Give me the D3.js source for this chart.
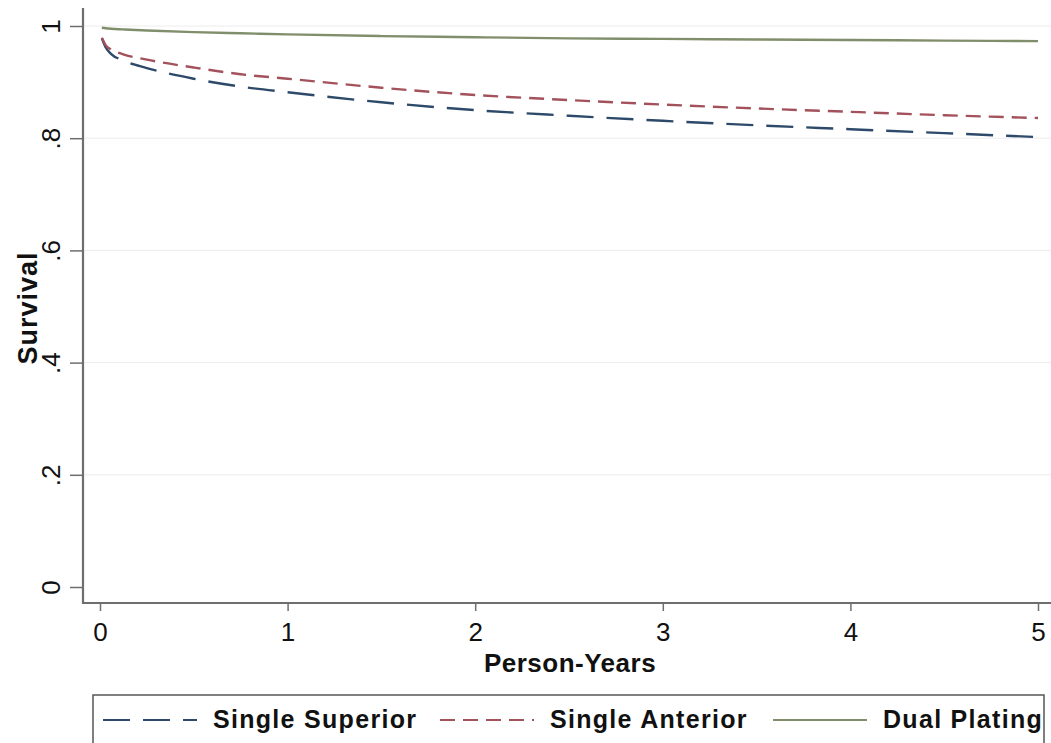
<!DOCTYPE html>
<html><head><meta charset="utf-8">
<script src="https://cdn.jsdelivr.net/npm/d3@7"></script>
<style>
html,body{margin:0;padding:0;background:#fff;}
svg{display:block;font-family:"Liberation Sans",Arial,Helvetica,sans-serif;}
</style></head>
<body>
<svg id="chart" width="1051" height="743"></svg>
<script>
const timePoints = [0.01,0.03,0.06,0.12,0.25,0.5,0.75,1,1.5,2,2.5,3,3.5,4,4.5,5];
const singleSuperior = [0.978,0.962,0.950,0.939,0.925,0.906,0.892,0.882,0.864,0.850,0.840,0.831,0.823,0.816,0.809,0.802];
const singleAnterior = [0.979,0.966,0.958,0.950,0.940,0.926,0.914,0.906,0.890,0.877,0.868,0.860,0.853,0.847,0.841,0.836];
const dualPlating   = [0.997,0.996,0.995,0.994,0.992,0.989,0.987,0.985,0.982,0.980,0.978,0.977,0.976,0.975,0.974,0.973];
const seriesNames = ["Single Superior","Single Anterior","Dual Plating"];
const xTicks = [0,1,2,3,4,5];
const yTicks = [0,0.2,0.4,0.6,0.8,1];
const yTickLabels = ["0",".2",".4",".6",".8","1"];

const svg = d3.select("#chart");
const x = d3.scaleLinear().domain([0,5]).range([100,1038]);
const y = d3.scaleLinear().domain([0,1]).range([587,26]);
const axisColor = "#6e6e6e";

// gridlines
svg.append("g").selectAll("line").data(yTicks.slice(1)).join("line")
  .attr("x1",84).attr("x2",1051)
  .attr("y1",d=>y(d)).attr("y2",d=>y(d))
  .attr("stroke","#ececec").attr("stroke-width",1);

// y axis
const yAxis = svg.append("g").attr("transform","translate(83,0)")
  .call(d3.axisLeft(y).tickValues(yTicks).tickFormat((d,i)=>yTickLabels[i]).tickSize(13).tickPadding(0));
yAxis.select(".domain").remove();
yAxis.selectAll(".tick line").attr("stroke",axisColor).attr("stroke-width",1.5);
yAxis.selectAll(".tick text")
  .attr("fill","#111").style("font-size","26px")
  .attr("text-anchor","middle").attr("x",null).attr("dy","0")
  .attr("transform","translate(-23,0) rotate(-90)");
svg.append("line").attr("x1",83).attr("x2",83).attr("y1",8).attr("y2",604)
  .attr("stroke",axisColor).attr("stroke-width",2.2);

// x axis
const xAxis = svg.append("g").attr("transform","translate(0,603)")
  .call(d3.axisBottom(x).tickValues(xTicks).tickFormat(d3.format("d")).tickSize(8).tickPadding(12));
xAxis.select(".domain").remove();
xAxis.selectAll(".tick line").attr("stroke",axisColor).attr("stroke-width",1.5);
xAxis.selectAll(".tick text").attr("fill","#111").style("font-size","26px");
svg.append("line").attr("x1",82).attr("x2",1051).attr("y1",603).attr("y2",603)
  .attr("stroke",axisColor).attr("stroke-width",2.2);

// axis titles
svg.append("text").attr("x",570).attr("y",672).attr("text-anchor","middle")
  .style("font-size","26px").style("font-weight","bold").style("letter-spacing","0.5px")
  .attr("fill","#111").text("Person-Years");
svg.append("text").attr("transform","translate(37,308) rotate(-90)").attr("text-anchor","middle")
  .style("font-size","27px").style("font-weight","bold").style("letter-spacing","1px")
  .attr("fill","#111").text("Survival");

// lines
const styles = [
  {color:"#2e4a6a", dash:"27,13", width:2.4},
  {color:"#a3525c", dash:"15,8", width:2.4},
  {color:"#818e6c", dash:null, width:2.4}
];
const seriesData = [singleSuperior, singleAnterior, dualPlating];
const line = d3.line().x(d=>x(d[0])).y(d=>y(d[1])).curve(d3.curveMonotoneX);
seriesData.forEach((vals,i)=>{
  const pts = timePoints.map((t,j)=>[t,vals[j]]);
  svg.append("path").datum(pts).attr("d",line)
    .attr("fill","none").attr("stroke",styles[i].color).attr("stroke-width",styles[i].width)
    .attr("stroke-dasharray",styles[i].dash);
});

// legend
svg.append("rect").attr("x",93).attr("y",695).attr("width",951).attr("height",70)
  .attr("fill","#fff").attr("stroke","#555").attr("stroke-width",1.5);
const legX = [{lx:103,tx:213},{lx:440,tx:550},{lx:773,tx:883}];
seriesNames.forEach((name,i)=>{
  svg.append("line").attr("x1",legX[i].lx).attr("x2",legX[i].lx+94)
    .attr("y1",720).attr("y2",720)
    .attr("stroke",styles[i].color).attr("stroke-width",2)
    .attr("stroke-dasharray",styles[i].dash);
  svg.append("text").attr("x",legX[i].tx).attr("y",728)
    .style("font-size","25px").style("font-weight","bold").style("letter-spacing","1.3px")
    .attr("fill","#111").text(name);
});
</script>
</body></html>
